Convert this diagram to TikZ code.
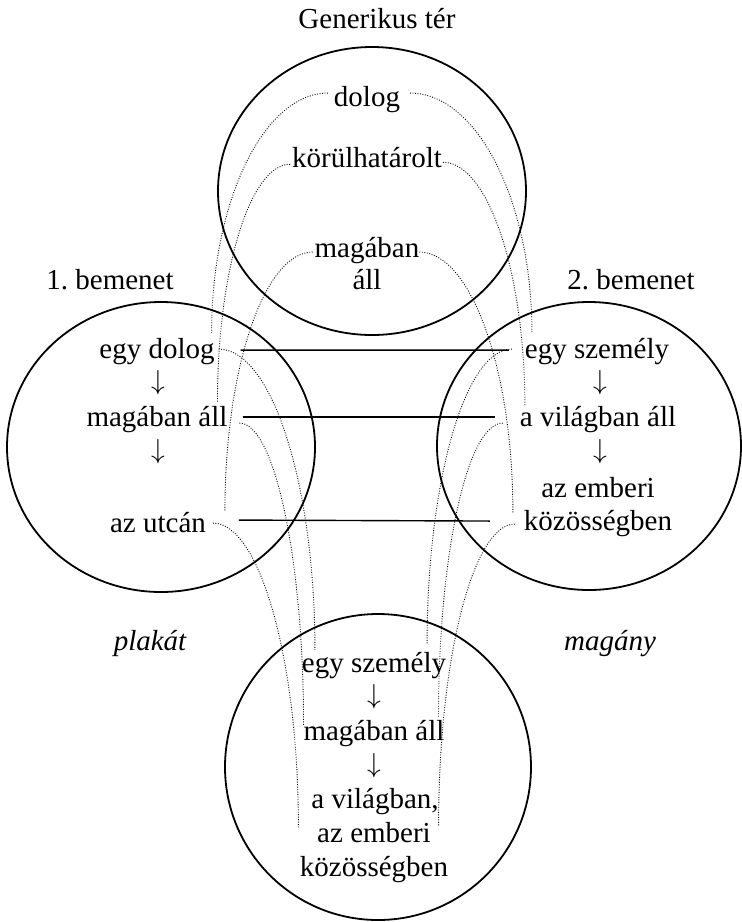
\documentclass[tikz,border=0pt]{standalone}
\usepackage{fontspec}
\setmainfont{Liberation Serif}
\usetikzlibrary{shapes.geometric,calc}
\frenchspacing
\newcommand{\darr}{\scalebox{2.75}{$\downarrow$}}
\begin{document}
\begin{tikzpicture}[x=1pt,y=-1pt,
  lbl/.style={inner sep=0pt, outer sep=0pt, anchor=base, font=\fontsize{29}{34}\selectfont},
  ilbl/.style={lbl, font=\fontsize{29}{34}\selectfont\itshape},
  arr/.style={inner sep=0pt, outer sep=0pt, anchor=base, font=\fontsize{10}{12}\selectfont},
  ring/.style={draw, ellipse, line width=1.8pt, inner sep=0pt},
  link/.style={line width=1.4pt},
  dots/.style={line width=0.9pt, dash pattern=on 0.9pt off 1.6pt},
]
\useasboundingbox (0,0) rectangle (742,922);

% circles
\node[ring, minimum width=308pt, minimum height=288pt] (G)  at (372,191) {};
\node[ring, minimum width=308pt, minimum height=290pt] (I1) at (161,447) {};
\node[ring, minimum width=304pt, minimum height=288pt] (I2) at (589,446) {};
\node[ring, minimum width=306pt, minimum height=306pt] (B)  at (378,767) {};

% generic space
\node[lbl] (gt)  at (377,28)  {Generikus tér};
\node[lbl] (td)  at (367,106) {dolog};
\node[lbl] (tk)  at (367,167) {körülhatárolt};
\node[lbl] (tm1) at (367,257) {magában};
\node[lbl] (tm2) at (367,289) {áll};

% titles
\node[lbl] (in1) at (110,289) {1. bemenet};
\node[lbl] (in2) at (631,289) {2. bemenet};
\node[ilbl] (pl) at (150,650) {plakát};
\node[ilbl] (mg) at (610,650) {magány};

% input 1
\node[lbl] (l1)  at (157,358) {egy dolog};
\node[arr] (la1) at (158,389) {\darr};
\node[lbl] (l2)  at (157,426) {magában áll};
\node[arr] (la2) at (158,458) {\darr};
\node[lbl] (l3)  at (158,532) {az utcán};

% input 2
\node[lbl] (r1)  at (597,358) {egy személy};
\node[arr] (ra1) at (600,389) {\darr};
\node[lbl] (r2)  at (598,426) {a világban áll};
\node[arr] (ra2) at (600,458) {\darr};
\node[lbl] (r3a) at (598,497) {az emberi};
\node[lbl] (r3)  at (598,530) {közösségben};

% blend
\node[lbl] (b1)  at (374,672) {egy személy};
\node[arr] (ba1) at (374,703) {\darr};
\node[lbl] (b2)  at (374,740) {magában áll};
\node[arr] (ba2) at (374,772) {\darr};
\node[lbl] (b3a) at (375,808) {a világban,};
\node[lbl] (b3b) at (374,842) {az emberi};
\node[lbl] (b3c) at (374,876) {közösségben};

% cross-space mappings
\draw[link] ($(l1.east)+(26,-1)$) -- ($(r1.west)+(-16,-1)$);
\draw[link] ($(l2.east)+(16,-2)$) -- ($(r2.west)+(-25,-2)$);
\draw[link] ($(l3.east)+(33,-2)$) -- ($(r3.west)+(-34,-2)$);

% generic -> input 1
\draw[dots] ($(td.west)+(-6,-6)$) .. controls +(-64,0) and +(0,-132) .. ($(l1.north east)+(-3,-5)$);
\draw[dots] ($(tk.south west)+(-2,-3)$) .. controls +(-40,0) and +(0,-131) .. ($(l2.north east)+(-10,-4)$);
\draw[dots] ($(tm1.west)+(-2,2)$) .. controls +(-48,0) and +(0,-145) .. ($(l3.north east)+(19,0)$);

% generic -> input 2
\draw[dots] ($(td.east)+(10,-6)$) .. controls +(67,0) and +(0,-132) .. ($(r1.north west)+(7,-5)$);
\draw[dots] ($(tk.south east)+(1,-5)$) .. controls +(45,0) and +(0,-135) .. ($(r2.north west)+(5,1)$);
\draw[dots] ($(tm1.east)+(0,2)$) .. controls +(51,0) and +(0,-145) .. ($(r3.north west)+(-11,3)$);

% input 1 -> blend
\draw[dots] ($(l1.east)+(4,-2)$) .. controls +(53,0) and +(0,-166) .. ($(b1.north west)+(13,-2)$);
\draw[dots] ($(l2.east)+(12,4)$) .. controls +(35,0) and +(0,-166) .. ($(b2.north west)+(0,5)$);
\draw[dots] ($(l3.east)+(7,1)$) .. controls +(47,0) and +(0,-167) .. ($(b3a.south west)+(-13,13)$);

% input 2 -> blend
\draw[dots] ($(r1.west)+(-13,-2)$) .. controls +(-47,0) and +(0,-163) .. ($(b1.north east)+(-19,-7)$);
\draw[dots] ($(r2.west)+(-17,4)$) .. controls +(-36,0) and +(0,-162) .. ($(b2.north east)+(-6,-2)$);
\draw[dots] ($(r3.west)+(-9,1)$) .. controls +(-42,0) and +(0,-166) .. ($(b3a.south east)+(0,11)$);
\end{tikzpicture}
\end{document}
